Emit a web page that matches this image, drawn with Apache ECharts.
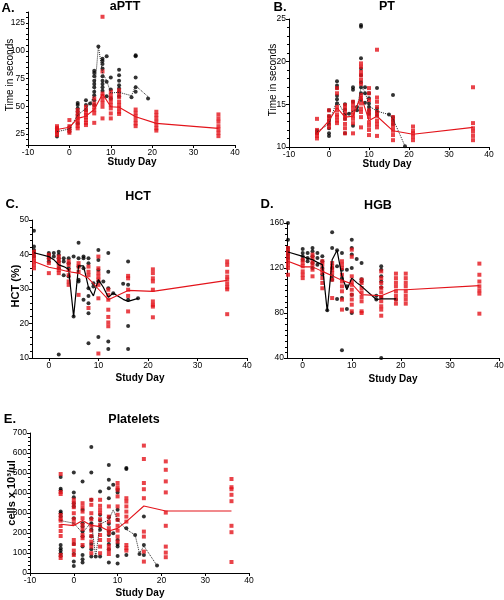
<!DOCTYPE html>
<html><head><meta charset="utf-8">
<script src="https://cdn.jsdelivr.net/npm/echarts@6/dist/echarts.min.js"></script>
<style>html,body{margin:0;padding:0;background:#fff}#c{width:504px;height:600px}</style>
</head><body><div id="c"></div>
<script>
// ---------- Panel A: aPTT ----------
const aRedDays = [-3, 0, 2, 4, 6, 8, 10, 12, 16, 21, 36];
const aRedVals = [
  [32, 30.5, 29, 27.5, 26, 24],
  [37.5, 32, 30, 28, 26],
  [46.5, 43.5, 41, 39, 37, 34.5, 32, 30],
  [49.5, 46.5, 44, 42, 40, 37.5, 35, 33],
  [57, 52.5, 49.5, 46.5, 43.5, 35],
  [130.7, 81.4, 61.4, 59, 56, 53, 49.5, 39],
  [63, 60, 57, 54, 51, 48, 43.5, 39],
  [64.4, 61.4, 58, 54, 51, 48, 45, 43],
  [47, 44, 41, 37.5, 34.5, 32],
  [45, 42, 39, 36, 33, 30, 28],
  [42.6, 39, 36, 32, 29, 26, 23]
];
const aRedMean = [29, 31, 39, 41, 47, 61, 49.5, 49, 40.5, 34.5, 30];
const aBlackDays = [-3, 0, 2, 4, 5, 6, 7, 8, 9, 10, 12, 15, 16, 19];
const aBlackVals = [
  [22.6, 27, 30],
  [27, 29, 31],
  [53, 51, 48, 45, 42, 34.5],
  [55.4, 51, 46.5],
  [52.5],
  [82, 80, 77, 73, 70, 67, 63, 60, 55.4, 51],
  [103.8],
  [92.8, 90.7, 88, 84, 77, 73, 70, 67, 64],
  [95, 72, 59],
  [76, 65, 57],
  [83, 78, 73, 69, 66, 63, 59],
  [58],
  [96, 95, 76, 67, 63],
  [57]
];
const aBlackMean = [27, 29.5, 42, 48, 52.5, 59.5, 104, 80, 73, 62, 62.5, 59.5, 68.5, 58.6];
const aYTicks = [25, 50, 75, 100, 125];

// ---------- Panel B: PT ----------
const bRedDays = [-3, 0, 2, 4, 6, 8, 10, 12, 16, 21, 36];
const bRedVals = [
  [13.3, 12, 11.6, 11.3, 11],
  [14.3, 13.6, 13.2, 12.7, 12.3],
  [16.9, 16.3, 14.7, 14.3, 13.8, 13.5, 13.1, 12.8],
  [14.9, 14.5, 14.1, 13.7, 13.3, 12.7, 12.2, 11.6],
  [15.3, 14.9, 14.5, 14.1, 13.7, 13.3, 12.8, 11.6],
  [19.8, 19.4, 18.8, 18.4, 17.9, 17.4, 16.1, 15.7, 15.1, 14.5, 14.1, 13.5, 12.3],
  [16.9, 16.3, 15.5, 14.3, 13.9, 13.5, 12.9, 12.5, 12, 11.4],
  [21.4, 15.8, 15.3, 14.7, 14.1, 13.7, 13.1, 12.7, 12.3, 11.3],
  [13.5, 13.1, 12.7, 12.3, 11.9, 11.4, 10.8],
  [12.4, 11.9, 11.6, 11.2, 10.8],
  [17, 12.8, 12.2, 11.8, 11.3, 10.8]
];
const bRedMean = [11.5, 13.1, 14.6, 13.5, 13.6, 16, 13.1, 13.6, 11.9, 11.5, 12.3];
const bBlackDays = [-3, 0, 2, 4, 5, 6, 7, 8, 9, 10, 12, 15, 16, 19];
const bBlackVals = [
  [11.9, 11.6],
  [14.3, 13.6, 13.1, 12.7, 12.2, 11.6, 11.3],
  [17.7, 17.2, 16.9, 16, 15.6, 15.1],
  [15, 14.4, 13.8, 13.3, 11.6],
  [13.9],
  [17, 16.7, 15.3, 12.5],
  [14.7, 14.3],
  [24.3, 24.1, 20.4, 19.2, 18.4, 17.6, 17, 16.3, 15.5],
  [17, 16.3, 15.2],
  [16.3, 15.7, 15.1, 14.7, 14.3, 13.9],
  [16.9, 14.5, 14.1, 13.7],
  [13.8],
  [16.1, 13.5, 13.1, 12.7],
  [10.1]
];
const bBlackMean = [11.8, 12.7, 15.5, 13.8, 13.9, 14.2, 14.5, 17, 16.5, 14.8, 14.2, 13.8, 13.3, 10.1];

// ---------- Panel C: HCT ----------
const cRedDays = [-3, 0, 2, 4, 6, 8, 10, 12, 16, 21, 36];
const cRedVals = [
  [40.8, 39.9, 38.9, 38, 37, 36],
  [39.9, 38.9, 37.5, 34.6],
  [39.4, 38.4, 37.5, 36.5, 35.5, 34.6],
  [38, 37, 35.5, 34, 32.2, 31.2],
  [37.5, 36.5, 35, 28.3],
  [36.5, 35, 34, 24.5],
  [39.4, 36, 34.6, 33.6, 32.7, 31.2, 27.3, 11.3],
  [29.8, 28.3, 26.9, 24, 21.9, 20.3, 19.2],
  [33.8, 33.1, 29.8, 28, 23.5],
  [35.7, 34.6, 33.1, 32.2, 29.8, 26.4, 25.4, 24.9, 21.8],
  [38, 37, 35, 33.6, 32.7, 31.5, 30.5, 29.9, 22.7]
];
const cRedMean = [38, 36.3, 35.7, 35, 34.6, 33.1, 30, 26.9, 29.6, 29.3, 32.5];
const cBlackDays = [-3, 0, 1, 2, 3, 4, 5, 6, 7, 8, 9, 10, 11, 12, 13, 15, 16, 18];
const cBlackVals = [
  [46.9, 42.3, 41.3, 40.4, 39.4],
  [40.4, 39.9, 38.9, 38],
  [40.4, 39.4],
  [40.8, 39.9, 38.9, 38, 36, 11],
  [38.9, 38, 34],
  [38.9, 37.5, 36, 33.6],
  [39.4, 22],
  [43.4, 38.9, 36.5, 32.7, 32.2],
  [39.4, 38.9, 36, 26.9],
  [38.9, 37.5, 30.2, 28, 25.9, 23, 14.3],
  [31.7, 30.7],
  [41.3, 38.4, 35.5, 32.2, 16.1],
  [32.2],
  [40.4, 35, 30.2, 14.8, 12.6],
  [28.8],
  [31.5],
  [38, 31.2, 26.9, 19.3, 12.6],
  [27.3]
];
const cBlackMean = [40.5, 39.4, 38.5, 37, 36.5, 35.7, 22, 36.7, 36.7, 30.5, 28, 32.7, 30.5, 27.6, 28.8, 27, 26.4, 27.3];

// ---------- Panel D: HGB ----------
const dRedDays = [-3, 0, 2, 4, 6, 8, 10, 12, 16, 19, 21, 36];
const dRedVals = [
  [137.8, 134.8, 131.9, 128.9, 125.9, 123, 120, 114],
  [127.4, 124.4, 121.5, 117, 114, 111],
  [131.9, 128.9, 125.9, 123, 118.5, 112.6],
  [126, 123, 118.5, 115.6, 111, 106.7, 102],
  [124.4, 121.5, 118.5, 115.6, 109.6, 93.3],
  [126, 123, 120, 114, 108, 103.7, 99.3, 91.9, 83],
  [136.3, 130, 112.6, 108, 105, 100.7, 96.3, 92, 87.4, 81.5],
  [109.6, 106.7, 102.2, 98.4, 94.2, 90.4, 81.5, 80],
  [117, 111, 106.7, 102.2, 98.4, 94.2, 90.4, 86, 83, 77.6],
  [115, 111, 107, 103.7, 99.3, 95.4, 92, 88.3],
  [115, 111, 107, 103.7, 99.3, 95.4, 92, 88.3],
  [123.9, 114, 108, 103.7, 100.1, 97.2, 79.4]
];
const dRedMean = [126, 121, 121, 117, 113.2, 109, 106, 96.3, 95.4, 100.7, 100.7, 104.3];
const dBlackDays = [-3, 0, 1, 2, 3, 4, 5, 6, 7, 8, 9, 10, 11, 12, 15, 16, 19];
const dBlackVals = [
  [160, 145.2, 137.8, 134.8, 131.9, 128.9],
  [136.9, 133.3, 130.4, 127.4],
  [133.3, 128.9, 125.9],
  [137.8, 134.8, 130.4, 124.4, 120],
  [133.3, 128.9, 123],
  [130.4, 125.9, 120, 114],
  [82.4],
  [151.7, 137.8, 120, 112.6, 109.6],
  [135.7, 121.5, 92.5],
  [133.3, 118.5, 111, 93.3, 46.8],
  [118.5, 103.7, 83.6],
  [145.2, 137.8, 131.9, 120, 96.3, 80],
  [128],
  [124.4, 110, 108],
  [95.4, 92],
  [121.5, 118.5, 112.6, 108, 103, 94.2, 40],
  [92]
];
const dBlackMean = [134.2, 130.4, 128.5, 127.4, 125, 123, 81.5, 127.4, 135.7, 112.6, 100.7, 111, 107, 103.7, 92, 92.5, 92.5];

// ---------- Panel E: Platelets ----------
const eRedDays = [-3, 0, 2, 4, 6, 8, 10, 12, 16, 21, 36];
const eRedVals = [
  [495, 405, 395, 290, 270, 262, 235, 210, 185, 90, 75],
  [366, 349, 329, 299, 269, 249, 165, 145, 112, 90],
  [349, 329, 307, 274, 241, 219, 190, 174, 140],
  [366, 341, 299, 269, 236, 212, 185, 157, 132, 99],
  [366, 336, 316, 299, 269, 241, 190, 165, 132, 99],
  [333, 282, 257, 224, 199, 165, 135, 115, 95],
  [450, 429, 416, 383, 333, 291, 266, 236, 212, 182, 157],
  [374, 357, 333, 307, 282, 257, 140, 124, 112],
  [637, 570, 450, 419, 374, 207, 182, 107, 57],
  [558, 516, 458, 403, 302, 236, 132, 102, 79],
  [470, 429, 419, 391, 359, 236, 204, 55]
];
const eRedMean = [244, 237, 262, 238, 232, 210, 223, 257, 335, 310, 310];
const eBlackDays = [-3, 0, 2, 4, 5, 6, 8, 9, 10, 12, 14, 15, 16, 19];
const eBlackVals = [
  [480, 421, 413, 307, 299, 282, 140, 124, 112, 99, 85],
  [503, 403, 379, 349, 333, 274, 145, 95, 57, 35],
  [458, 316, 249, 232, 207, 182, 132, 90, 69, 52],
  [630, 503, 366, 274, 249, 216, 182, 145, 119, 82],
  [82],
  [408, 291, 262, 232, 216, 82],
  [540, 466, 424, 374, 279, 246, 207, 190, 145, 119, 53],
  [441, 199],
  [416, 403, 316, 266, 165, 145, 132, 85, 48],
  [525, 520, 224, 90],
  [190],
  [95],
  [282, 140, 90],
  [37]
];
const eBlackMean = [262, 249, 200, 255, 82, 245, 265, 316, 265, 218, 190, 98, 135, 37];

// ---------- build ----------
const RED = '#e3141b';
const FONT = '"Liberation Sans", Arial, sans-serif';
function pts(days, vals) { const o = []; days.forEach((d, i) => vals[i].forEach(v => o.push([d, v]))); return o; }
function mean(days, m) { return days.map((d, i) => [d, m[i]]); }

const panels = [
  { rd: aRedDays, rv: aRedVals, rm: aRedMean, bd: aBlackDays, bv: aBlackVals, bm: aBlackMean, dotted: true },
  { rd: bRedDays, rv: bRedVals, rm: bRedMean, bd: bBlackDays, bv: bBlackVals, bm: bBlackMean, dotted: true },
  { rd: cRedDays, rv: cRedVals, rm: cRedMean, bd: cBlackDays, bv: cBlackVals, bm: cBlackMean, dotted: false },
  { rd: dRedDays, rv: dRedVals, rm: dRedMean, bd: dBlackDays, bv: dBlackVals, bm: dBlackMean, dotted: false },
  { rd: eRedDays, rv: eRedVals, rm: eRedMean, bd: eBlackDays, bv: eBlackVals, bm: eBlackMean, dotted: true }
];

const grids = [
  { left: 28, top: 12, width: 207, height: 133 },
  { left: 289, top: 19, width: 200, height: 128 },
  { left: 32, top: 220, width: 215, height: 138 },
  { left: 287, top: 223, width: 212, height: 135 },
  { left: 30, top: 433, width: 219, height: 140 }
].map(g => Object.assign({ outerBoundsMode: 'none', containLabel: false }, g));

const axisBase = {
  axisLine: { show: true, onZero: false, lineStyle: { color: '#000', width: 1 } },
  axisTick: { show: true, length: 3, lineStyle: { color: '#000', width: 1 } },
  axisLabel: { color: '#000', fontSize: 8.5, fontFamily: FONT, margin: 3 },
  splitLine: { show: false }
};
function ax(extra) { return Object.assign({ type: 'value' }, JSON.parse(JSON.stringify(axisBase)), extra); }

const xTicks = [0, 10, 20, 30, 40];
const xAxes = [
  ax({ gridIndex: 0, min: -10, max: 40, interval: 10 }),
  ax({ gridIndex: 1, min: -10, max: 40, interval: 10 }),
  ax({ gridIndex: 2, min: -3.4, max: 40 }),
  ax({ gridIndex: 3, min: -3.2, max: 40 }),
  ax({ gridIndex: 4, min: -10, max: 40, interval: 10 })
];
xAxes[2].axisLabel.customValues = xTicks; xAxes[2].axisTick.customValues = xTicks;
xAxes[3].axisLabel.customValues = xTicks; xAxes[3].axisTick.customValues = xTicks;

const minor = (n) => ({ show: true, splitNumber: n, length: 2, lineStyle: { color: '#000', width: 1 } });
const yAxes = [
  ax({ gridIndex: 0, min: 15, max: 135, interval: 5 }),
  ax({ gridIndex: 1, min: 10, max: 25, interval: 5, minorTick: minor(5) }),
  ax({ gridIndex: 2, min: 10, max: 50, interval: 10, minorTick: minor(5) }),
  ax({ gridIndex: 3, min: 40, max: 160, interval: 40, minorTick: minor(8) }),
  ax({ gridIndex: 4, min: 0, max: 700, interval: 100, minorTick: minor(5) })
];
yAxes[0].axisTick.length = 2;
yAxes[0].axisLabel.formatter = v => (aYTicks.indexOf(Math.round(v)) >= 0 ? String(Math.round(v)) : '');

const series = [];
panels.forEach((p, i) => {
  series.push({ type: 'scatter', xAxisIndex: i, yAxisIndex: i, data: pts(p.bd, p.bv), symbol: 'circle', symbolSize: 4, itemStyle: { color: '#000' }, z: 2, silent: true });
  series.push({ type: 'scatter', xAxisIndex: i, yAxisIndex: i, data: pts(p.rd, p.rv), symbol: 'rect', symbolSize: 4, itemStyle: { color: RED }, z: 3, silent: true });
  series.push({ type: 'line', xAxisIndex: i, yAxisIndex: i, data: mean(p.bd, p.bm), showSymbol: false, lineStyle: { color: p.dotted ? '#222' : '#000', width: p.dotted ? 1 : 1.2, type: p.dotted ? 'dotted' : 'solid' }, z: 4, silent: true });
  series.push({ type: 'line', xAxisIndex: i, yAxisIndex: i, data: mean(p.rd, p.rm), showSymbol: false, lineStyle: { color: RED, width: 1.1 }, z: 5, silent: true });
});

function txt(t, x, y, size, bold, rot) {
  return { type: 'text', x: x, y: y, rotation: rot ? Math.PI / 2 : 0, silent: true,
    style: { text: t, fill: '#000', font: (bold ? 'bold ' : '') + size + 'px ' + FONT, textAlign: 'center', textVerticalAlign: 'middle' } };
}
const graphic = [
  txt('A.', 8, 8, 13, true), txt('aPTT', 125, 7, 12.5, true),
  txt('B.', 280, 7, 13, true), txt('PT', 387, 7, 12.5, true),
  txt('C.', 12, 204, 13, true), txt('HCT', 138, 197, 12.5, true),
  txt('D.', 267, 204, 13, true), txt('HGB', 378, 206, 12.5, true),
  txt('E.', 10, 419, 13, true), txt('Platelets', 134, 420, 12.5, true),
  txt('Time in seconds', 10, 75, 10, false, true),
  txt('Time in seconds', 273, 80, 10, false, true),
  txt('HCT (%)', 16, 286, 11, true, true),
  txt('cells x 10\u00B3/ul', 12, 493, 11, true, true),
  txt('Study Day', 132, 162, 10, true),
  txt('Study Day', 387, 164, 10, true),
  txt('Study Day', 140, 378, 10, true),
  txt('Study Day', 393, 379, 10, true),
  txt('Study Day', 140, 593, 10, true)
];

const chart = echarts.init(document.getElementById('c'), null, { renderer: 'canvas' });
chart.setOption({
  animation: false,
  backgroundColor: '#fff',
  grid: grids,
  xAxis: xAxes,
  yAxis: yAxes,
  series: series,
  graphic: graphic
});
</script>
</body></html>
